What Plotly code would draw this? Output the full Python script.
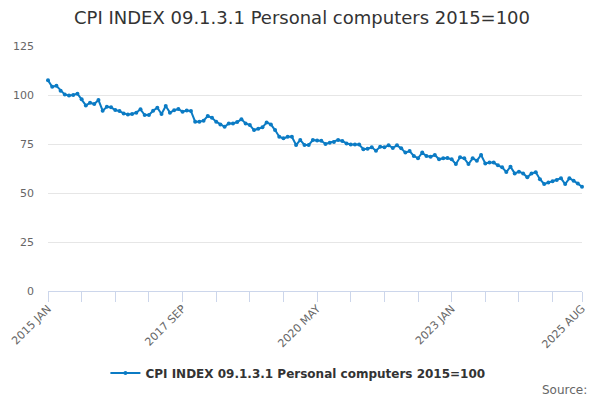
import plotly.graph_objects as go

MONTHS = ["JAN", "FEB", "MAR", "APR", "MAY", "JUN", "JUL", "AUG", "SEP", "OCT", "NOV", "DEC"]

# monthly periods 2015 JAN .. 2025 AUG
periods = [f"{y} {m}" for y in range(2015, 2026) for m in MONTHS][:128]

cpi_values = [
    107.5, 104.2, 104.7, 102.2, 100.2, 99.8, 100.0, 100.7, 97.8, 94.7, 96.0, 95.4,
    97.4, 92.0, 94.0, 93.7, 92.3, 91.8, 90.6, 90.0, 90.3, 91.0, 92.7, 89.8,
    89.8, 92.0, 93.5, 90.3, 94.4, 91.0, 92.2, 92.8, 91.5, 92.1, 91.8, 86.4,
    86.4, 86.9, 89.3, 88.4, 86.4, 85.0, 83.8, 85.5, 85.5, 86.2, 87.6, 85.5,
    84.7, 82.1, 82.8, 83.5, 86.0, 85.0, 82.1, 78.7, 77.9, 78.7, 78.7, 74.5,
    77.0, 74.5, 74.5, 77.0, 76.8, 76.7, 75.0, 75.7, 76.0, 77.0, 76.5, 75.3,
    74.8, 74.7, 74.7, 72.3, 72.6, 73.3, 71.6, 73.6, 73.3, 74.3, 73.0, 74.3,
    72.8, 70.6, 71.4, 68.9, 67.7, 70.6, 68.9, 68.5, 69.4, 67.2, 67.7, 67.8,
    67.2, 64.8, 68.2, 67.7, 64.8, 67.7, 66.5, 69.4, 65.1, 65.5, 65.5, 64.1,
    63.1, 60.7, 63.4, 60.0, 60.9, 60.0, 58.0, 60.0, 60.6, 57.0, 54.6, 55.3,
    56.0, 56.6, 57.5, 54.6, 57.5, 56.3, 54.9, 53.2,
]

series_name = "CPI INDEX 09.1.3.1 Personal computers 2015=100"
label_periods = ["2015 JAN", "2017 SEP", "2020 MAY", "2023 JAN", "2025 AUG"]

# tick marks every 8 months plus the last one, labels only on some of them
tick_vals = periods[::8] + [periods[-1]]
tick_text = [p if p in label_periods else "" for p in tick_vals]

color = "#0b7bc4"
font = "DejaVu Sans"

fig = go.Figure()
fig.add_trace(go.Scatter(
    x=periods, y=cpi_values,
    name=series_name,
    mode="lines+markers",
    line=dict(color=color, width=2),
    marker=dict(color=color, size=4),
    cliponaxis=False,
))

# the page body adds an 8px offset, so margins are shifted to compensate
fig.update_layout(
    width=600, height=400,
    paper_bgcolor="white", plot_bgcolor="white",
    margin=dict(l=40, r=26, t=38, b=117, autoexpand=False),
    font=dict(family=font, color="#666666", size=11),
    title=dict(
        text=series_name,
        x=0.49, xanchor="center", y=0.975, yanchor="middle",
        font=dict(family=font, size=18, color="#333333"),
    ),
    showlegend=True,
    legend=dict(
        orientation="h", x=0.468, xanchor="center", y=-0.335, yanchor="middle",
        font=dict(family=font, size=12, color="#333333", weight="bold"),
    ),
    xaxis=dict(
        type="category", automargin=False,
        range=[0, len(periods) - 1],
        tickmode="array", tickvals=tick_vals, ticktext=tick_text,
        tickangle=-45,
        ticks="outside", ticklen=10, tickcolor="#ccd6eb",
        ticklabelstandoff=-4,
        showline=True, linecolor="#ccd6eb", linewidth=1,
        showgrid=False,
        tickfont=dict(size=11, color="#666666"),
    ),
    yaxis=dict(
        automargin=False,
        range=[0, 125], dtick=25,
        showgrid=True, gridcolor="#e6e6e6",
        zeroline=False,
        ticks="", ticklabelstandoff=13,
        tickfont=dict(size=11, color="#666666"),
    ),
    annotations=[dict(
        text="Source:", xref="paper", yref="paper",
        x=1.013, y=-0.404, xanchor="right", yanchor="middle",
        showarrow=False, font=dict(family=font, size=12, color="#666666"),
    )],
)

fig.write_html("out.html")
